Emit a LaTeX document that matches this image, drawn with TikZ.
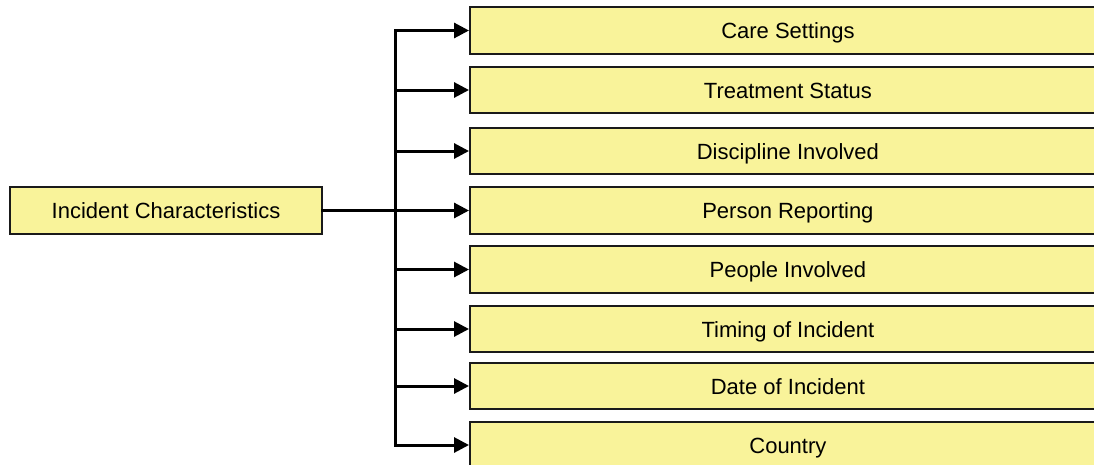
\documentclass[tikz,border=0pt]{standalone}
\usepackage{fontspec}
\setmainfont{Liberation Sans}
\usetikzlibrary{arrows.meta}
\definecolor{boxfill}{HTML}{F9F39A}
\definecolor{boxline}{HTML}{1A1A1A}
\begin{document}
\begin{tikzpicture}[x=1pt,y=-1pt,
  catbox/.style={draw=boxline,fill=boxfill,line width=1.8pt,inner sep=0pt,
    minimum height=46.5pt,text height=16pt,text depth=0pt,
    font=\fontsize{22}{26}\selectfont},
  itembox/.style={catbox,minimum width=636pt,anchor=west},
  link/.style={line width=3pt,line cap=rect},
  arrowlink/.style={link,-{Triangle[length=15pt,width=15pt]}}]
\useasboundingbox (0,0) rectangle (1094,464);
\clip (0,0) rectangle (1094,464);

% source box
\node[catbox,minimum width=312pt] (src) at (166,210.5) {Incident Characteristics};

% category boxes
\node[itembox] (b1) at (469,30.5) {Care Settings};
\node[itembox] (b2) at (469,90) {Treatment Status};
\node[itembox] (b3) at (469,151) {Discipline Involved};
\node[itembox] (b4) at (469,210.5) {Person Reporting};
\node[itembox] (b5) at (469,269.5) {People Involved};
\node[itembox] (b6) at (469,329) {Timing of Incident};
\node[itembox] (b7) at (469,386) {Date of Incident};
\node[itembox] (b8) at (469,445) {Country};

% trunk line
\coordinate (trunk) at (395,210.5);
\draw[link] (b1.west -| trunk) -- (b8.west -| trunk);

% main connector straight across
\draw[arrowlink] (src.east) -- (b4.west);

% branches
\foreach \b in {b1,b2,b3,b5,b6,b7,b8}
  \draw[arrowlink] (\b.west -| trunk) -- (\b.west);
\end{tikzpicture}
\end{document}
